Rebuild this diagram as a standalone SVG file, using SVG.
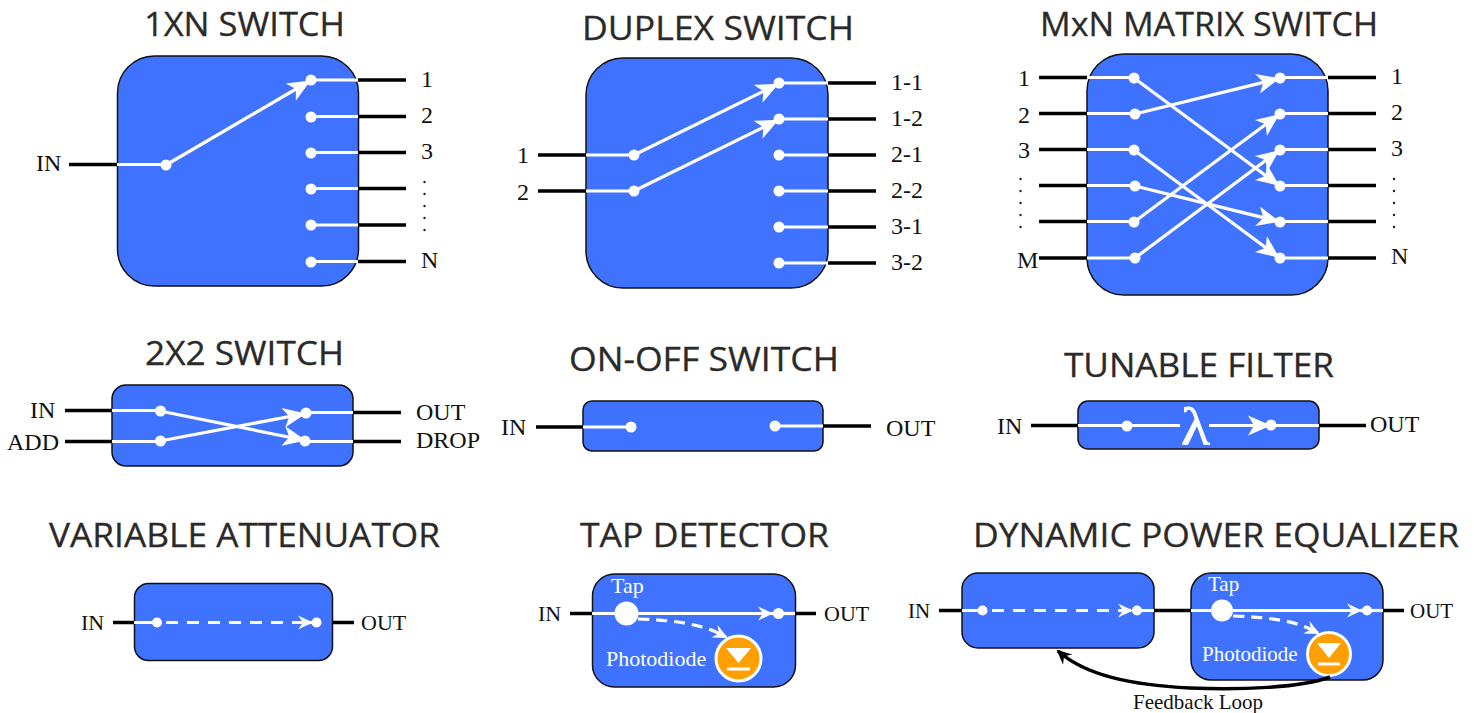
<svg xmlns="http://www.w3.org/2000/svg" width="1474" height="713" viewBox="0 0 1474 713">
<style>
text{fill:#000}
.t{font-family:"Open Sans","Noto Sans",sans-serif;font-size:33px;fill:#2b2a29;stroke:#2b2a29;stroke-width:.3}
.l{font-family:"Liberation Serif","Times New Roman",serif;font-size:24px;fill:#111}
.s{font-size:22px}
.wt{fill:#fff}
.b{fill:#3f72ff;stroke:#111;stroke-width:1.5}
.d{fill:#fff}
.k{stroke:#000;stroke-width:3.500;fill:none}
.w{stroke:#fff;stroke-width:3.200;fill:none}
.a{marker-end:url(#ah)}
.da{stroke-dasharray:12 9}
.dot{fill:#222}
.pd{fill:#ffa000;stroke:#fff;stroke-width:3}
</style>
<defs>
<marker id="ah" markerUnits="userSpaceOnUse" markerWidth="30" markerHeight="26" refX="20" refY="13" orient="auto">
<path d="M0,3 L23,13 L0,23 L6,13 Z" fill="#fff"/>
</marker>
<marker id="ahs" markerUnits="userSpaceOnUse" markerWidth="22" markerHeight="20" refX="14" refY="10" orient="auto">
<path d="M1,3 L16,10 L1,17 L6,10 Z" fill="#fff"/>
</marker>
<marker id="ahk" markerUnits="userSpaceOnUse" markerWidth="20" markerHeight="18" refX="13" refY="9" orient="auto">
<path d="M0,2 L15,9 L0,16 L5,9 Z" fill="#000"/>
</marker>
</defs>

<g id="switch-1xn">
<text class="t" x="144" y="36" textLength="201" lengthAdjust="spacingAndGlyphs">1XN SWITCH</text>
<rect class="b" x="117.500" y="56" width="241" height="230" rx="37"/>
<circle class="d" cx="166" cy="165" r="5.500"/>
<circle class="d" cx="311" cy="80" r="5.500"/><circle class="d" cx="311" cy="117" r="5.500"/><circle class="d" cx="311" cy="153" r="5.500"/><circle class="d" cx="311" cy="189" r="5.500"/><circle class="d" cx="311" cy="225" r="5.500"/><circle class="d" cx="311" cy="262" r="5.500"/>
<text class="l" x="36" y="171">IN</text>
<text class="l" x="421" y="87">1</text><text class="l" x="421" y="123">2</text><text class="l" x="421" y="159">3</text><text class="l" x="421" y="268">N</text>
<circle class="dot" cx="424.500" cy="182" r="1.200"/><circle class="dot" cx="424.500" cy="194" r="1.200"/><circle class="dot" cx="424.500" cy="206" r="1.200"/><circle class="dot" cx="424.500" cy="218" r="1.200"/><circle class="dot" cx="424.500" cy="230" r="1.200"/>
</g>

<g id="switch-duplex">
<text class="t" x="582" y="40" textLength="272" lengthAdjust="spacingAndGlyphs">DUPLEX SWITCH</text>
<rect class="b" x="586" y="58" width="242" height="230" rx="37"/>
<circle class="d" cx="634" cy="155" r="5.500"/><circle class="d" cx="634" cy="191" r="5.500"/>
<circle class="d" cx="779" cy="83" r="5.500"/><circle class="d" cx="779" cy="119" r="5.500"/><circle class="d" cx="779" cy="155" r="5.500"/><circle class="d" cx="779" cy="191" r="5.500"/><circle class="d" cx="779" cy="227" r="5.500"/><circle class="d" cx="779" cy="263" r="5.500"/>
<text class="l" x="517" y="163">1</text><text class="l" x="517" y="200">2</text>
<text class="l" x="891" y="90">1-1</text><text class="l" x="891" y="126">1-2</text><text class="l" x="891" y="162">2-1</text><text class="l" x="891" y="198">2-2</text><text class="l" x="891" y="234">3-1</text><text class="l" x="891" y="270">3-2</text>
</g>

<g id="switch-mxn">
<text class="t" x="1040" y="36" textLength="338" lengthAdjust="spacingAndGlyphs">MxN MATRIX SWITCH</text>
<rect class="b" x="1087" y="54" width="241" height="241" rx="37"/>
<circle class="d" cx="1134" cy="78" r="5.500"/><circle class="d" cx="1135" cy="114" r="5.500"/><circle class="d" cx="1134" cy="150" r="5.500"/><circle class="d" cx="1135" cy="186" r="5.500"/><circle class="d" cx="1134" cy="222" r="5.500"/><circle class="d" cx="1135" cy="258" r="5.500"/>
<circle class="d" cx="1280" cy="78" r="5.500"/><circle class="d" cx="1280" cy="114" r="5.500"/><circle class="d" cx="1280" cy="150" r="5.500"/><circle class="d" cx="1280" cy="186" r="5.500"/><circle class="d" cx="1280" cy="222" r="5.500"/><circle class="d" cx="1280" cy="258" r="5.500"/>
<text class="l" x="1018" y="86">1</text><text class="l" x="1018" y="123">2</text><text class="l" x="1018" y="158">3</text><text class="l" x="1017" y="268">M</text>
<text class="l" x="1391" y="84">1</text><text class="l" x="1391" y="120">2</text><text class="l" x="1391" y="156">3</text><text class="l" x="1391" y="264">N</text>
<circle class="dot" cx="1020.500" cy="179" r="1.200"/><circle class="dot" cx="1020.500" cy="191" r="1.200"/><circle class="dot" cx="1020.500" cy="203" r="1.200"/><circle class="dot" cx="1020.500" cy="215" r="1.200"/><circle class="dot" cx="1020.500" cy="227" r="1.200"/>
<circle class="dot" cx="1394" cy="179" r="1.200"/><circle class="dot" cx="1394" cy="191" r="1.200"/><circle class="dot" cx="1394" cy="203" r="1.200"/><circle class="dot" cx="1394" cy="215" r="1.200"/><circle class="dot" cx="1394" cy="227" r="1.200"/>
</g>

<g id="switch-2x2">
<text class="t" x="145" y="365" textLength="199" lengthAdjust="spacingAndGlyphs">2X2 SWITCH</text>
<rect class="b" x="112" y="385" width="241" height="81" rx="14"/>
<circle class="d" cx="160.500" cy="411" r="5.500"/><circle class="d" cx="160.500" cy="441" r="5.500"/><circle class="d" cx="306" cy="413" r="5.500"/><circle class="d" cx="305" cy="441" r="5.500"/>
<text class="l" x="30" y="418">IN</text><text class="l" x="7" y="450">ADD</text><text class="l" x="416" y="420">OUT</text><text class="l" x="416" y="448">DROP</text>
</g>

<g id="on-off-switch">
<text class="t" x="569" y="371" textLength="270" lengthAdjust="spacingAndGlyphs">ON-OFF SWITCH</text>
<rect class="b" x="583" y="401" width="240" height="50" rx="9"/>
<circle class="d" cx="631" cy="427" r="5.500"/><circle class="d" cx="775" cy="426" r="5.500"/>
<text class="l" x="501" y="435">IN</text><text class="l" x="886" y="436">OUT</text>
</g>

<g id="tunable-filter">
<text class="t" x="1064" y="377" textLength="270" lengthAdjust="spacingAndGlyphs">TUNABLE FILTER</text>
<rect class="b" x="1078" y="401" width="241" height="48" rx="10"/>
<circle class="d" cx="1127" cy="426" r="5.500"/><circle class="d" cx="1271" cy="425" r="5.500"/>
<text x="1181" y="444" font-family="'Liberation Serif',serif" font-size="53" class="wt" stroke="#fff" stroke-width=".8" textLength="29" lengthAdjust="spacingAndGlyphs">λ</text>
<text class="l" x="997" y="434">IN</text><text class="l" x="1370" y="432">OUT</text>
</g>

<g id="variable-attenuator">
<text class="t" x="49" y="547" textLength="391" lengthAdjust="spacingAndGlyphs">VARIABLE ATTENUATOR</text>
<rect class="b" x="134.500" y="583.500" width="198" height="77" rx="14"/>
<circle class="d" cx="157" cy="622.500" r="5"/><circle class="d" cx="316.500" cy="622.500" r="5"/>
<text class="l s" x="81" y="630">IN</text><text class="l s" x="361" y="630">OUT</text>
</g>

<g id="tap-detector">
<text class="t" x="580" y="547" textLength="249" lengthAdjust="spacingAndGlyphs">TAP DETECTOR</text>
<rect class="b" x="592.500" y="574" width="203" height="113" rx="22"/>
<circle class="d" cx="626.500" cy="613.500" r="12"/><circle class="d" cx="778.500" cy="613.500" r="5.500"/>
<text class="l s wt" x="611" y="593">Tap</text>
<text class="l s wt" x="606" y="666">Photodiode</text>
<circle class="pd" cx="738.500" cy="658.500" r="22.500"/>
<path d="M726,648 H751 L738.500,663 Z" fill="#fff"/><path d="M727,669 H750" stroke="#fff" stroke-width="3"/>
<text class="l s" x="538" y="621">IN</text><text class="l s" x="824" y="621">OUT</text>
</g>

<g id="dynamic-power-equalizer">
<text class="t" x="973" y="547" textLength="486" lengthAdjust="spacingAndGlyphs">DYNAMIC POWER EQUALIZER</text>
<rect class="b" x="962" y="573" width="192" height="75" rx="16"/>
<rect class="b" x="1191" y="573" width="192" height="107" rx="20"/>
<circle class="d" cx="982.500" cy="610.500" r="5"/><circle class="d" cx="1137" cy="610.500" r="5"/>
<circle class="d" cx="1222" cy="610.500" r="11"/><circle class="d" cx="1367" cy="610.500" r="5"/>
<text class="l s wt" x="1208" y="591" font-size="21" style="font-size:21px">Tap</text>
<text class="l s wt" x="1202" y="661" style="font-size:21px">Photodiode</text>
<circle class="pd" cx="1329" cy="654" r="21.500"/>
<path d="M1317,643 H1341 L1329,658 Z" fill="#fff"/><path d="M1318,664 H1340" stroke="#fff" stroke-width="3"/>
<text class="l s" x="908" y="618" style="font-size:21px">IN</text><text class="l s" x="1410" y="618" style="font-size:21px">OUT</text>
<text class="l s" x="1133" y="709" style="font-size:21px">Feedback Loop</text>
</g>

<g id="connectors">
<path class="k" d="M69,164.500H117M358,80H406M358,116.500H406M358,152.500H406M358,188.500H406M358,225H406M358,261.500H406"/>
<path class="w" d="M117,164.500H166M311,80H358M311,116.500H358M311,152.500H358M311,188.500H358M311,225H358M311,261.500H358"/>
<path class="w a" d="M166,165L308,82"/>
<path class="k" d="M538,155H586M538,191H586M828,83H876M828,119H876M828,155H876M828,191H876M828,227H876M828,263H876"/>
<path class="w" d="M586,155H634M586,191H634M779,83H828M779,119H828M779,155H828M779,191H828M779,227H828M779,263H828"/>
<path class="w a" d="M634,155L776,85"/><path class="w a" d="M634,191L776,121"/>
<path class="k" d="M1039,77.500H1087M1039,113.500H1087M1039,149.500H1087M1039,185.500H1087M1039,221.500H1087M1039,258H1087M1328,77.500H1376M1328,113.500H1376M1328,149.500H1376M1328,185.500H1376M1328,221.500H1376M1328,258H1376"/>
<path class="w" d="M1087,77.500H1134M1087,113.500H1135M1087,149.500H1134M1087,185.500H1135M1087,221.500H1134M1087,258H1135M1280,77.500H1328M1280,113.500H1328M1280,149.500H1328M1280,185.500H1328M1280,221.500H1328M1280,258H1328"/>
<path class="w a" d="M1134,78L1277,184"/><path class="w a" d="M1135,114L1277,79"/><path class="w a" d="M1134,150L1277,256"/><path class="w a" d="M1135,186L1277,221"/><path class="w a" d="M1134,222L1277,116"/><path class="w a" d="M1135,258L1277,152"/>
<path class="k" d="M65,410.500H112M65,441.500H112M353,412.500H401M353,441.500H401"/>
<path class="w" d="M112,410.500H160M112,441.500H160M306,412.500H353M305,441.500H353"/>
<path class="w a" d="M160,411L303,440"/><path class="w a" d="M160,441L303,414"/>
<path class="k" d="M536,427H583M823,426H871"/>
<path class="w" d="M583,427H631M775,426H823"/>
<path class="k" d="M1031,425.500H1078M1319,425.500H1366"/>
<path class="w" d="M1078,425.500H1180M1271,425.500H1319"/>
<path class="w a" d="M1209,425.500H1268"/>
<path class="k" d="M113,622.500H134M332,622.500H354"/>
<path class="w" d="M134,622.500H157M310,622.500H316"/>
<path class="w da" d="M166,622.500H304"/>
<path d="M303,622.500H311" class="w" style="marker-end:url(#ahs)"/>
<path class="k" d="M570,613.500H592M795,613.500H816"/>
<path class="w" style="marker-end:url(#ahs)" d="M592,613.500H771"/>
<path class="w" d="M771,613.500H795"/>
<path class="w" stroke-dasharray="11 7" d="M638,619C670,620 695,623 716,632"/>
<path class="w" style="marker-end:url(#ahs)" d="M716,632L726,637"/>
<path class="k" d="M939,610.500H962M1154,610.500H1191M1383,610.500H1404"/>
<path class="w" d="M962,610.500H982M1137,610.500H1154"/>
<path class="w da" d="M992,610.500H1122"/>
<path class="w" style="marker-end:url(#ahs)" d="M1122,610.500H1131"/>
<path class="w" style="marker-end:url(#ahs)" d="M1191,610.500H1360"/>
<path class="w" d="M1360,610.500H1383"/>
<path class="w" stroke-dasharray="11 7" d="M1233,616C1265,617 1290,620 1308,628"/>
<path class="w" style="marker-end:url(#ahs)" d="M1308,628L1318,633"/>
<path d="M1330,677C1300,688 1240,690 1190,688C1130,685 1085,675 1058,651" class="k" style="marker-end:url(#ahk)"/>
</g>
</svg>
